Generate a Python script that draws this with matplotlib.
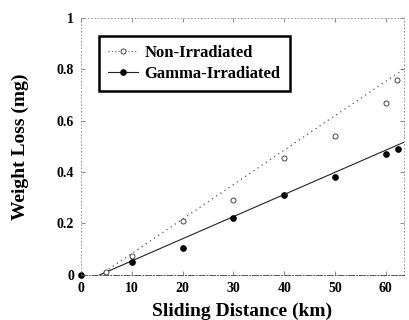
import matplotlib
matplotlib.use('Agg')
import matplotlib.pyplot as plt

plt.rcParams['font.family'] = 'Liberation Serif'
plt.rcParams['font.weight'] = 'bold'

# Data
non_x = [5, 10, 20, 30, 40, 50, 60, 62.2]
non_y = [0.01, 0.074, 0.21, 0.29, 0.455, 0.54, 0.67, 0.76]
gam_x = [0, 10, 20, 30, 40, 50, 60, 62.4]
gam_y = [0, 0.05, 0.105, 0.22, 0.31, 0.38, 0.47, 0.49]

# fitted lines (end points)
non_fit_x = [3.8, 64.2]
non_fit_y = [0.0, 0.81]
gam_fit_x = [3.7, 64.6]
gam_fit_y = [0.0, 0.525]

x_ticks = [0, 10, 20, 30, 40, 50, 60]
y_ticks = [0, 0.2, 0.4, 0.6, 0.8, 1]
y_tick_labels = ['0', '0.2', '0.4', '0.6', '0.8', '1']

fig = plt.figure(figsize=(4.09, 3.2), dpi=100)
ax = fig.add_axes([0.198, 0.141, 0.79, 0.803])

ax.plot(non_fit_x, non_fit_y, color='#555555', linestyle=(0, (1, 3)), linewidth=0.9)
ax.plot(gam_fit_x, gam_fit_y, color='#222222', linestyle='-', linewidth=0.8)
ax.plot(non_x, non_y, linestyle='none', marker='o', markersize=3.6,
        markerfacecolor='white', markeredgecolor='#444444', markeredgewidth=0.7)
ax.plot(gam_x, gam_y, linestyle='none', marker='o', markersize=3.8,
        color='black', clip_on=False)

# legend handles
h1, = ax.plot([], [], color='#555555', linestyle=(0, (1, 2)), linewidth=0.8,
              marker='o', markersize=3.6, markerfacecolor='white',
              markeredgecolor='#444444', markeredgewidth=0.7)
h2, = ax.plot([], [], color='#222222', linestyle='-', linewidth=0.8,
              marker='o', markersize=3.8, markerfacecolor='black',
              markeredgecolor='black')
leg = ax.legend([h1, h2], ['Non-Irradiated', 'Gamma-Irradiated'],
                loc='upper left', bbox_to_anchor=(0.04, 0.95),
                fancybox=False, shadow=False, framealpha=1,
                edgecolor='black', handlelength=1.8, handletextpad=0.4,
                borderpad=0.55, borderaxespad=0.3, labelspacing=0.3,
                prop={'size': 12, 'weight': 'bold'})
leg.get_frame().set_linewidth(1.8)

ax.set_xlim(0, 63.6)
ax.set_ylim(0, 1)
ax.set_xticks(x_ticks)
ax.set_yticks(y_ticks)
ax.set_yticklabels(y_tick_labels)
ax.tick_params(direction='in', length=3, width=0.6, color='#777777',
               labelsize=10, pad=5, top=True, right=True)
for lab in ax.get_xticklabels() + ax.get_yticklabels():
    lab.set_fontweight('bold')

for side in ['top', 'left', 'right']:
    ax.spines[side].set_linestyle((0, (1, 3)))
    ax.spines[side].set_color('#888888')
    ax.spines[side].set_linewidth(0.6)
ax.spines['bottom'].set_linestyle((0, (6, 2, 1, 2)))
ax.spines['bottom'].set_color('#555555')
ax.spines['bottom'].set_linewidth(0.7)

ax.set_xlabel('Sliding Distance (km)', fontsize=14, fontweight='bold', labelpad=6)
ax.set_ylabel('Weight Loss (mg)', fontsize=14, fontweight='bold', labelpad=20)

fig.savefig('out.png', dpi=100)
